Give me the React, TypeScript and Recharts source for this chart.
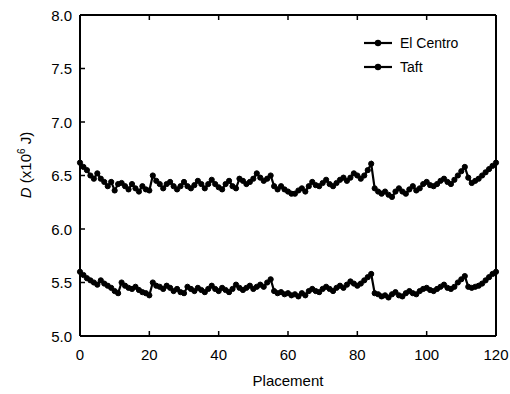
import { Line, LineChart, XAxis, YAxis } from "recharts"

// upper curve
const elCentro = [
  6.62, 6.58, 6.55, 6.5, 6.47, 6.52, 6.47, 6.44, 6.4, 6.44,
  6.36, 6.42, 6.43, 6.4, 6.37, 6.42, 6.38, 6.35, 6.4, 6.37,
  6.36, 6.5, 6.45, 6.42, 6.38, 6.42, 6.44, 6.4, 6.37, 6.4,
  6.44, 6.4, 6.38, 6.41, 6.45, 6.42, 6.38, 6.42, 6.46, 6.42,
  6.39, 6.37, 6.42, 6.45, 6.4, 6.38, 6.47, 6.45, 6.42, 6.44,
  6.47, 6.52, 6.48, 6.45, 6.47, 6.5, 6.4, 6.37, 6.4, 6.37,
  6.35, 6.33, 6.33, 6.36, 6.38, 6.35, 6.4, 6.44, 6.41, 6.4,
  6.43, 6.46, 6.42, 6.4, 6.43, 6.46, 6.48, 6.45, 6.48, 6.52,
  6.5, 6.47, 6.5, 6.55, 6.61, 6.38, 6.35, 6.33, 6.35, 6.32,
  6.3, 6.35, 6.38, 6.35, 6.33, 6.37, 6.4, 6.36, 6.38, 6.42,
  6.44, 6.41, 6.4, 6.42, 6.45, 6.47, 6.44, 6.42, 6.46, 6.5,
  6.54, 6.58, 6.48, 6.43, 6.45, 6.47, 6.5, 6.53, 6.56, 6.59,
  6.62,
]

// lower curve
const taft = [
  5.6, 5.57, 5.54, 5.52, 5.5, 5.48, 5.52, 5.49, 5.47, 5.45,
  5.42, 5.4, 5.5, 5.47, 5.45, 5.44, 5.46, 5.43, 5.41, 5.4,
  5.38, 5.5, 5.47, 5.46, 5.44, 5.47, 5.45, 5.42, 5.44, 5.41,
  5.4, 5.46, 5.44, 5.42, 5.45, 5.43, 5.41, 5.44, 5.47, 5.44,
  5.42, 5.45, 5.43, 5.41, 5.44, 5.48, 5.45, 5.43, 5.45, 5.47,
  5.44, 5.46, 5.48, 5.46, 5.5, 5.53, 5.42, 5.4, 5.41, 5.39,
  5.4, 5.38, 5.39, 5.37, 5.4, 5.38, 5.42, 5.44, 5.42, 5.41,
  5.44, 5.46, 5.44, 5.42, 5.45, 5.47, 5.45, 5.48, 5.51, 5.49,
  5.47, 5.49, 5.52, 5.55, 5.58, 5.4, 5.39, 5.37, 5.38, 5.36,
  5.39, 5.41, 5.38, 5.37, 5.4, 5.42, 5.4, 5.39, 5.42, 5.44,
  5.45, 5.43, 5.42, 5.44, 5.46, 5.48, 5.45, 5.44, 5.46, 5.5,
  5.53, 5.56, 5.46, 5.45, 5.46, 5.47, 5.49, 5.52, 5.55, 5.58,
  5.6,
]

const seriesNames = ["El Centro", "Taft"]
const xTicks = [0, 20, 40, 60, 80, 100, 120]
const yTicks = [5.0, 5.5, 6.0, 6.5, 7.0, 7.5, 8.0]

const data = elCentro.map((v, i) => ({ placement: i, elCentro: v, taft: taft[i] }))

const FONT = "Arial, 'Liberation Sans', sans-serif"

const BottomTick = (props: any) => {
  const { x, y, payload } = props
  return (
    <g>
      <line x1={x} y1={y} x2={x} y2={y - 5} stroke="#000" strokeWidth={1.5} />
      <text x={x} y={y + 24} textAnchor="middle" fontSize={15} fill="#000" fontFamily={FONT}>
        {payload.value}
      </text>
    </g>
  )
}

const TopTick = (props: any) => {
  const { x, y } = props
  return <line x1={x} y1={y} x2={x} y2={y + 5} stroke="#000" strokeWidth={1.5} />
}

const LeftTick = (props: any) => {
  const { x, y, payload } = props
  return (
    <g>
      <line x1={x} y1={y} x2={x + 5} y2={y} stroke="#000" strokeWidth={1.5} />
      <text x={x - 8} y={y + 5.5} textAnchor="end" fontSize={15} fill="#000" fontFamily={FONT}>
        {payload.value.toFixed(1)}
      </text>
    </g>
  )
}

const RightTick = (props: any) => {
  const { x, y } = props
  return <line x1={x} y1={y} x2={x - 5} y2={y} stroke="#000" strokeWidth={1.5} />
}

const dot = { r: 2.6, fill: "#000", stroke: "#000", strokeWidth: 1 }

export default function App() {
  return (
    <div style={{ position: "absolute", left: 0, top: 0, width: 510, height: 394, background: "#fff" }}>
      <LineChart width={510} height={394} data={data} margin={{ top: 0, right: 0, bottom: 0, left: 0 }}>
        <XAxis
          dataKey="placement"
          type="number"
          domain={[0, 120]}
          ticks={xTicks}
          height={58}
          tickSize={0}
          tickMargin={0}
          tickLine={false}
          tick={<BottomTick />}
          axisLine={{ stroke: "#000", strokeWidth: 2 }}
        />
        <XAxis
          xAxisId="top"
          dataKey="placement"
          orientation="top"
          type="number"
          domain={[0, 120]}
          ticks={xTicks}
          height={15}
          tickSize={0}
          tickMargin={0}
          tickLine={false}
          tick={<TopTick />}
          axisLine={{ stroke: "#000", strokeWidth: 2 }}
        />
        <YAxis
          type="number"
          domain={[5, 8]}
          ticks={yTicks}
          width={80}
          tickSize={0}
          tickMargin={0}
          tickLine={false}
          tick={<LeftTick />}
          axisLine={{ stroke: "#000", strokeWidth: 2 }}
        />
        <YAxis
          yAxisId="right"
          orientation="right"
          type="number"
          domain={[5, 8]}
          ticks={yTicks}
          width={14}
          tickSize={0}
          tickMargin={0}
          tickLine={false}
          tick={<RightTick />}
          axisLine={{ stroke: "#000", strokeWidth: 2 }}
        />
        <Line
          dataKey="elCentro"
          name={seriesNames[0]}
          stroke="#000"
          strokeWidth={2.2}
          dot={dot}
          activeDot={false}
          isAnimationActive={false}
        />
        <Line
          dataKey="taft"
          name={seriesNames[1]}
          stroke="#000"
          strokeWidth={2.2}
          dot={dot}
          activeDot={false}
          isAnimationActive={false}
        />
      </LineChart>

      {/* legend, top right inside the plot */}
      <div style={{ position: "absolute", left: 364, top: 31, fontFamily: FONT, fontSize: 14, color: "#000" }}>
        {seriesNames.map((name) => (
          <div key={name} style={{ display: "flex", alignItems: "center", height: 24 }}>
            <svg width={28} height={10} style={{ marginRight: 8 }}>
              <line x1={0} y1={5} x2={28} y2={5} stroke="#000" strokeWidth={2.2} />
              <circle cx={14} cy={5} r={3.2} fill="#000" />
            </svg>
            <span>{name}</span>
          </div>
        ))}
      </div>

      <div
        style={{
          position: "absolute",
          left: 0,
          top: 372,
          width: 576,
          textAlign: "center",
          fontFamily: FONT,
          fontSize: 15,
        }}
      >
        Placement
      </div>
      <div
        style={{
          position: "absolute",
          left: 25,
          top: 165,
          transform: "translate(-50%, -50%) rotate(-90deg)",
          whiteSpace: "nowrap",
          fontFamily: FONT,
          fontSize: 15,
        }}
      >
        <i>D</i> (x10<sup style={{ fontSize: 10 }}>6</sup> J)
      </div>
    </div>
  )
}
